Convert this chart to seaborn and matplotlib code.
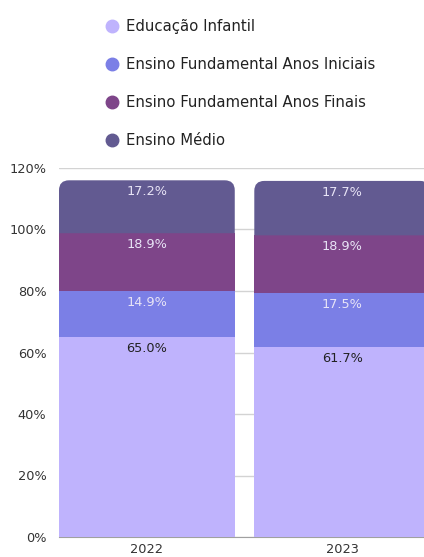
import matplotlib
matplotlib.use("Agg")
import matplotlib.pyplot as plt
import seaborn as sns
import numpy as np
import pandas as pd
from matplotlib.path import Path
from matplotlib.patches import PathPatch
from matplotlib.lines import Line2D
from matplotlib.ticker import FuncFormatter

years = ["2022", "2023"]
series = ["Educação Infantil", "Ensino Fundamental Anos Iniciais",
          "Ensino Fundamental Anos Finais", "Ensino Médio"]
infantil = [65.0, 61.7]
iniciais = [14.9, 17.5]
finais = [18.9, 18.9]
medio = [17.2, 17.7]
values = [infantil, iniciais, finais, medio]
colors = ["#BFB3FD", "#7B7FE6", "#7E4589", "#625A91"]
label_colors = ["#222222", "#E8E4F6", "#E8E4F6", "#E8E4F6"]
yticks = [0, 20, 40, 60, 80, 100, 120]

sns.set_style("white")
plt.rcParams["font.family"] = ["DejaVu Sans"]

fig = plt.figure(figsize=(4.24, 5.57), dpi=100)
ax = fig.add_axes([59/424, 20/557, 1 - 59/424, (537-168)/557])

df = pd.DataFrame({"year": years})
bottom = np.zeros(len(years))
containers = []
for name, vals, col in zip(series, values, colors):
    sns.barplot(x=df["year"], y=vals, bottom=bottom.copy(), color=col,
                width=0.9, ax=ax, saturation=1, linewidth=0, zorder=3)
    containers.append(ax.containers[-1])
    bottom = bottom + np.array(vals)

ax.set_xlim(-0.45, 1.419)
ax.set_ylim(0, 120)
ax.set_yticks(yticks)
ax.yaxis.set_major_formatter(FuncFormatter(lambda v, p: f"{v:.0f}%"))
ax.grid(axis="y", color="#D3D3D3", linewidth=1, zorder=0)
ax.set_axisbelow(True)
for s in ["top", "right", "left"]:
    ax.spines[s].set_visible(False)
ax.spines["bottom"].set_color("#A0A0A0")
ax.spines["bottom"].set_zorder(1)
ax.tick_params(axis="both", length=0, labelsize=9.3, labelcolor="#333333")
ax.tick_params(axis="y", pad=9)
ax.tick_params(axis="x", pad=4.5)
ax.set_xlabel("")
ax.set_ylabel("")

# rounded top corners on the top segment
fig.canvas.draw()
px_per_x = ax.transData.transform((1, 0))[0] - ax.transData.transform((0, 0))[0]
px_per_y = ax.transData.transform((0, 1))[1] - ax.transData.transform((0, 0))[1]
rx = 10 / px_per_x
ry = 10 / px_per_y
for p in list(containers[-1].patches):
    x0, y0, w, h = p.get_x(), p.get_y(), p.get_width(), p.get_height()
    x1, y1 = x0 + w, y0 + h
    verts = [(x0, y0), (x1, y0), (x1, y1 - ry), (x1, y1), (x1 - rx, y1),
             (x0 + rx, y1), (x0, y1), (x0, y1 - ry), (x0, y0)]
    codes = [Path.MOVETO, Path.LINETO, Path.LINETO, Path.CURVE3, Path.CURVE3,
             Path.LINETO, Path.CURVE3, Path.CURVE3, Path.CLOSEPOLY]
    newp = PathPatch(Path(verts, codes), facecolor=p.get_facecolor(),
                     edgecolor="none", zorder=3)
    p.set_visible(False)
    ax.add_patch(newp)

# labels
for cont, vals, lc in zip(containers, values, label_colors):
    for p, v in zip(cont.patches, vals):
        ax.annotate(f"{v:.1f}%", (p.get_x() + p.get_width() / 2, p.get_y() + p.get_height()),
                    xytext=(0, -8), textcoords="offset points", ha="center", va="center",
                    fontsize=9.3, color=lc, zorder=5)

handles = [Line2D([0], [0], marker="o", linestyle="", markersize=9,
                  markerfacecolor=c, markeredgecolor=c) for c in colors]
fig.legend(handles, series, loc="upper left", bbox_to_anchor=(99/424, 1 - 13/557),
           frameon=False, fontsize=10.7, labelspacing=1.55, handletextpad=0.45,
           handlelength=1.0, borderaxespad=0, labelcolor="#222222")

fig.savefig("out.png", dpi=100)
